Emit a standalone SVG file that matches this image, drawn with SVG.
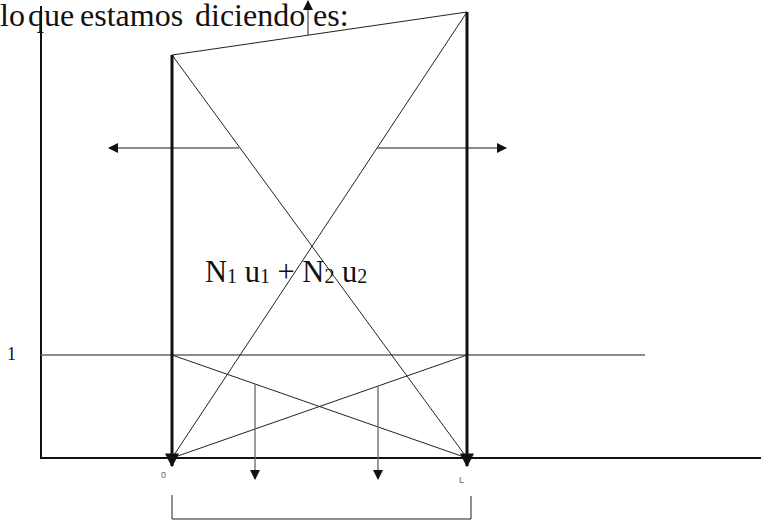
<svg xmlns="http://www.w3.org/2000/svg" width="761" height="522" viewBox="0 0 761 522">
<defs>
<style>
.thin{stroke:#222;stroke-width:1;fill:none}
.gray{stroke:#666;stroke-width:1.3;fill:none}
.thick{stroke:#111;stroke-width:3;fill:none}
.axis{stroke:#111;stroke-width:2;fill:none}
.serif{font-family:"Liberation Serif","Times New Roman",serif;fill:#111}
</style>
<marker id="ah" viewBox="0 0 10 10" refX="9" refY="5" markerWidth="10" markerHeight="10" markerUnits="userSpaceOnUse" orient="auto"><path d="M0,0 L10,5 L0,10 z" fill="#111"/></marker>
<marker id="ahb" viewBox="0 0 10 10" refX="9" refY="5" markerWidth="14" markerHeight="14" markerUnits="userSpaceOnUse" orient="auto"><path d="M0,0 L10,5 L0,10 z" fill="#111"/></marker>
</defs>
<rect width="761" height="522" fill="#fff"/>
<g id="title"><text class="serif" y="26" font-size="32"><tspan x="0">lo</tspan> <tspan x="28">que</tspan> <tspan x="80">estamos</tspan> <tspan x="195">diciendo</tspan> <tspan x="313">es:</tspan></text></g>
<g id="connectors">
<line class="axis" x1="41" y1="6" x2="41" y2="459"/>
<line class="axis" x1="41" y1="458" x2="761" y2="458"/>
<line class="gray" x1="41" y1="355" x2="645" y2="355"/>
<line class="thin" x1="172" y1="55" x2="467" y2="12"/>
<line class="thin" x1="308" y1="35" x2="308" y2="1" marker-end="url(#ah)"/>
<line class="thin" x1="172" y1="55" x2="467" y2="458"/>
<line class="thin" x1="467" y1="12" x2="172" y2="458"/>
<line class="gray" x1="239" y1="148" x2="109" y2="148" marker-end="url(#ah)"/>
<line class="gray" x1="377" y1="148" x2="506" y2="148" marker-end="url(#ah)"/>
<line class="thin" x1="172" y1="355" x2="467" y2="458"/>
<line class="thin" x1="467" y1="355" x2="172" y2="458"/>
<line class="gray" x1="255" y1="384" x2="255" y2="479" marker-end="url(#ah)"/>
<line class="gray" x1="378" y1="386" x2="378" y2="479" marker-end="url(#ah)"/>
<line class="thick" x1="172" y1="55" x2="172" y2="466" marker-end="url(#ahb)"/>
<line class="thick" x1="467" y1="12" x2="467" y2="466" marker-end="url(#ahb)"/>
<polyline class="thin" points="172,495 172,519 471,519 471,496"/>
</g>
<g id="labels">
<text class="serif" x="7" y="360" font-size="18">1</text>
<text x="161" y="478" font-size="9" font-family="Liberation Sans, Arial, sans-serif" fill="#666">0</text>
<text x="459" y="483" font-size="9" font-family="Liberation Sans, Arial, sans-serif" fill="#666">L</text>
<text class="serif" x="205" y="282" font-size="30.5">N<tspan font-size="20" dy="1">1</tspan><tspan dy="-1"> u</tspan><tspan font-size="20" dy="1">1</tspan><tspan dy="-1"> + N</tspan><tspan font-size="20" dy="1">2</tspan><tspan dy="-1"> u</tspan><tspan font-size="20" dy="1">2</tspan></text>
</g>
</svg>
